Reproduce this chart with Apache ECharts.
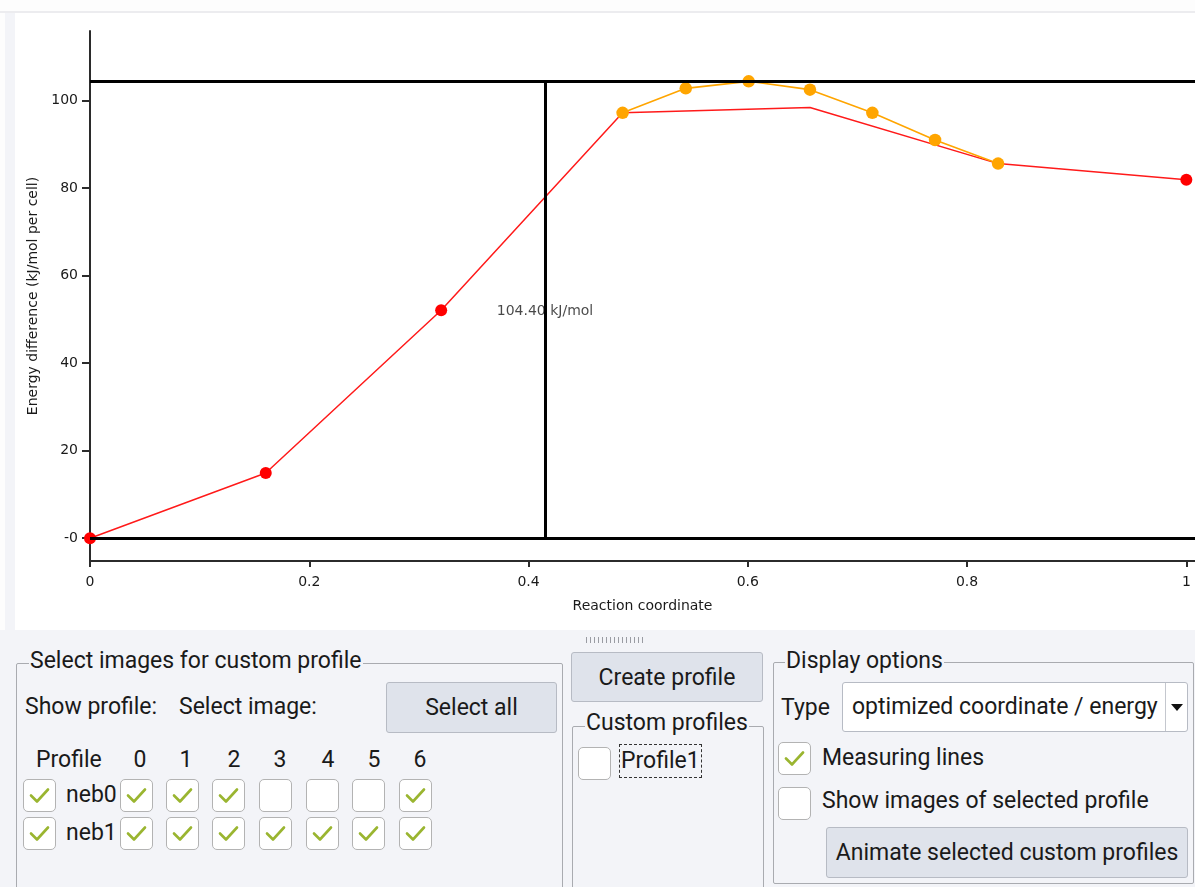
<!DOCTYPE html>
<html>
<head>
<meta charset="utf-8">
<script src="https://cdn.jsdelivr.net/npm/echarts@6/dist/echarts.min.js"></script>
<style>
  html, body { margin:0; padding:0; }
  body { width:1195px; height:887px; background:#f3f4f8; position:relative; overflow:hidden;
         font-family: Roboto, "Noto Sans", sans-serif; color:#1a1a1a; }
  .abs { position:absolute; }
  .txt { position:absolute; font-size:23px; line-height:30px; white-space:nowrap; }
  .group { position:absolute; border:1px solid #a9abb0; border-radius:2px; }
  .gtitle { position:absolute; font-size:23px; line-height:30px; background:#f3f4f8; padding:0 1px; white-space:nowrap; }
  .btn { position:absolute; background:#dfe3eb; border:1px solid #b7bbc4; border-radius:3px; box-sizing:border-box;
         font-size:23px; display:flex; align-items:center; justify-content:center; white-space:nowrap; }
  .cb { position:absolute; width:33px; height:33px; box-sizing:border-box; background:#fff;
        border:1.5px solid #b3b3b3; border-radius:5px; }
  .cb svg { position:absolute; left:0; top:0; }
</style>
</head>
<body>
<div class="abs" style="left:0;top:0;width:1195px;height:11px;background:#fdfdfd"></div>
<div class="abs" style="left:0;top:11px;width:1195px;height:2px;background:#ececef"></div>
<div class="abs" style="left:0;top:13px;width:5px;height:617px;background:#fdfdfd"></div>
<div id="chart" class="abs" style="left:15px;top:13px;width:1180px;height:617px;background:#fff"></div>
<div class="abs" style="left:586px;top:637px;width:57px;height:6px;background:repeating-linear-gradient(90deg,#9a9ca3 0 1px,transparent 1px 4px)"></div>
<div id="ui"></div>

<script>
// ---- chart data ----
const neb0X = [0, 0.1603, 0.3203, 0.4858, 0.6567, 0.8283, 1.0];
const neb0Y = [0, 14.9, 52.1, 97.2, 98.4, 85.6, 81.9];
const neb0Selected = [true, true, true, false, false, false, true];
const neb1X = [0.4858, 0.5434, 0.6008, 0.6567, 0.7136, 0.7708, 0.8283];
const neb1Y = [97.2, 102.8, 104.4, 102.5, 97.2, 91.0, 85.6];
const neb1Selected = [true, true, true, true, true, true, true];
const measureLevels = [0, 104.4];
const measureX = 0.415;
const measureLabel = "104.40 kJ/mol";
const xTickValues = [0, 0.2, 0.4, 0.6, 0.8, 1];
const xTickLabels = ["0", "0.2", "0.4", "0.6", "0.8", "1"];
const yTickValues = [0, 20, 40, 60, 80, 100];
const yTickLabels = ["-0", "20", "40", "60", "80", "100"];
const xName = "Reaction coordinate";
const yName = "Energy difference (kJ/mol per cell)";
const profileNames = ["neb0", "neb1"];
const imageIndices = ["0", "1", "2", "3", "4", "5", "6"];

const chartFont = "DejaVu Sans";
const textColor = "#1a1a1a";
const axisColor = "#2b2b2b";

function pts(xs, ys, sel) {
  return xs.map((x, i) => sel[i] ? [x, ys[i]] : { value: [x, ys[i]], symbol: 'none' });
}

const chart = echarts.init(document.getElementById('chart'), null, { renderer: 'canvas' });
chart.setOption({
  animation: false,
  backgroundColor: '#ffffff',
  grid: { left: 75, right: 0, top: 18, bottom: 69, containLabel: false },
  xAxis: {
    type: 'value', min: 0, max: 1.0079,
    name: xName, nameLocation: 'middle', nameGap: 38,
    nameTextStyle: { fontFamily: chartFont, fontSize: 14, color: textColor },
    axisLine: { onZero: false, lineStyle: { color: axisColor, width: 2 } },
    axisTick: { show: true, length: 6, lineStyle: { color: axisColor, width: 2 }, customValues: xTickValues },
    axisLabel: { fontFamily: chartFont, fontSize: 14, color: textColor, margin: 14,
                 customValues: xTickValues,
                 formatter: v => { const i = xTickValues.findIndex(t => Math.abs(t - v) < 1e-9); return i >= 0 ? xTickLabels[i] : ''; } },
    splitLine: { show: false }
  },
  yAxis: {
    type: 'value', min: -5.2, max: 115.9,
    name: yName, nameLocation: 'middle', nameGap: 44, nameRotate: 90,
    nameTextStyle: { fontFamily: chartFont, fontSize: 14, color: textColor },
    axisLine: { onZero: false, lineStyle: { color: axisColor, width: 2 } },
    axisTick: { show: true, length: 8, lineStyle: { color: axisColor, width: 2 }, customValues: yTickValues },
    axisLabel: { fontFamily: chartFont, fontSize: 14, color: textColor, margin: 12,
                 customValues: yTickValues,
                 formatter: v => { const i = yTickValues.findIndex(t => Math.abs(t - v) < 1e-9); return i >= 0 ? yTickLabels[i] : ''; } },
    splitLine: { show: false }
  },
  series: [
    {
      name: 'neb0', type: 'line', data: pts(neb0X, neb0Y, neb0Selected),
      symbol: 'circle', symbolSize: 12, showAllSymbol: true,
      lineStyle: { color: '#ff1a1a', width: 1.5 }, itemStyle: { color: '#ff0000' }, z: 3,
      markLine: {
        silent: true, symbol: 'none', label: { show: false },
        lineStyle: { color: '#000', width: 3, type: 'solid' },
        data: [
          { yAxis: measureLevels[0] },
          { yAxis: measureLevels[1] },
          [ { coord: [measureX, measureLevels[0]] }, { coord: [measureX, measureLevels[1]] } ]
        ]
      }
    },
    {
      name: 'neb1', type: 'line', data: pts(neb1X, neb1Y, neb1Selected),
      symbol: 'circle', symbolSize: 12.5, showAllSymbol: true,
      lineStyle: { color: '#ffa500', width: 1.6 }, itemStyle: { color: '#ffa500' }, z: 4
    },
    {
      name: 'measure', type: 'scatter', symbolSize: 0, silent: true, z: 2,
      data: [[measureX, (measureLevels[0] + measureLevels[1]) / 2]],
      label: { show: true, position: 'inside', formatter: measureLabel, offset: [0, 2],
               fontFamily: chartFont, fontSize: 14, color: textColor }
    }
  ]
});

// ---- UI panel (static widgets) ----
const ui = document.getElementById('ui');
function add(html) { ui.insertAdjacentHTML('beforeend', html); }
function txt(t, left, cy, extra) { add(`<div class="txt" style="left:${left}px;top:${cy - 15}px;${extra || ''}">${t}</div>`); }
function txtC(t, cx, cy) { add(`<div class="txt" style="left:${cx - 30}px;width:60px;text-align:center;top:${cy - 15}px">${t}</div>`); }
const check = `<svg width="30" height="30"><polyline points="7,15.5 13,21.5 24,9.5" fill="none" stroke="#9ab530" stroke-width="2.6" stroke-linecap="round" stroke-linejoin="round"/></svg>`;
function cb(left, top, on) { add(`<div class="cb" style="left:${left}px;top:${top}px">${on ? check : ''}</div>`); }

// group 1
add(`<div class="group" style="left:16px;top:663px;width:545px;height:260px"></div>`);
add(`<div class="gtitle" style="left:29px;top:646px">Select images for custom profile</div>`);
txt("Show profile:", 25, 707);
txt("Select image:", 179, 707);
add(`<div class="btn" style="left:386px;top:682px;width:171px;height:51px">Select all</div>`);
txt("Profile", 36, 760);
const colX = [120, 166, 212, 259, 306, 352, 399];
const headX = [140, 186, 234, 280, 328, 374, 420];
imageIndices.forEach((lab, i) => txtC(lab, headX[i], 760));
const rowTop = [779, 817];
const selections = [neb0Selected, neb1Selected];
profileNames.forEach((p, r) => {
  cb(23, rowTop[r], true);
  txt(p, 66, rowTop[r] + 16);
  selections[r].forEach((on, i) => cb(colX[i], rowTop[r], on));
});

// group 2
add(`<div class="btn" style="left:571px;top:652px;width:192px;height:50px">Create profile</div>`);
add(`<div class="group" style="left:572px;top:726px;width:190px;height:200px"></div>`);
add(`<div class="gtitle" style="left:585px;top:708px">Custom profiles</div>`);
cb(578, 747, false);
add(`<div class="abs" style="left:619px;top:744px;width:83px;height:34px;border:1.5px dashed #333;box-sizing:border-box"></div>`);
txt("Profile1", 621, 761);

// group 3
add(`<div class="group" style="left:773px;top:662px;width:419px;height:220px"></div>`);
add(`<div class="gtitle" style="left:785px;top:646px">Display options</div>`);
txt("Type", 781, 708);
add(`<div class="abs" style="left:842px;top:682px;width:346px;height:50px;background:#fff;border:1px solid #b7bbc4;border-radius:3px;box-sizing:border-box"></div>`);
add(`<div class="abs" style="left:1165px;top:683px;width:1px;height:48px;background:#c4c7ce"></div>`);
add(`<div class="abs" style="left:1171px;top:704px;width:0;height:0;border-left:6px solid transparent;border-right:6px solid transparent;border-top:7px solid #111"></div>`);
txt("optimized coordinate / energy", 852, 707);
cb(778, 742, true);
txt("Measuring lines", 822, 758);
cb(778, 787, false);
txt("Show images of selected profile", 822, 801);
add(`<div class="btn" style="left:826px;top:827px;width:362px;height:51px">Animate selected custom profiles</div>`);
</script>
</body>
</html>
